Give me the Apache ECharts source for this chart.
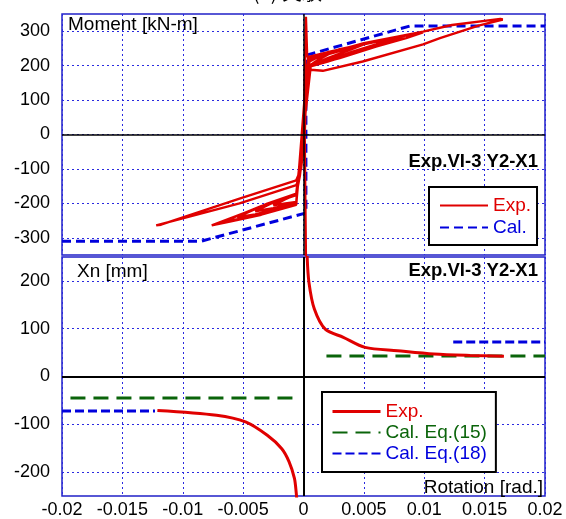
<!DOCTYPE html>
<html>
<head>
<meta charset="utf-8">
<script src="https://cdn.jsdelivr.net/npm/echarts@6/dist/echarts.min.js"></script>
<style>
  html, body { margin: 0; padding: 0; background: #fff; }
  #main { width: 566px; height: 519px; }
</style>
</head>
<body>
<div id="main"></div>
<script>
// tick labels
const momentTicks = [-300, -200, -100, 0, 100, 200, 300];
const xnTicks = [-200, -100, 0, 100, 200];

const expMomRot = [
  [0, 0], [0.0001, 150], [0.0002, 342], [0.0003, 230],
  [0.0005, 212], [0.002, 239], [0.003, 247], [0.002, 232], [0.001, 212], [0.0005, 200],
  [-0.0003, -120], [-0.0006, -174], [-0.0015, -188], [-0.0025, -206], [-0.0015, -200], [-0.0006, -196],
  [0.0004, 214], [0.003, 248], [0.005, 262], [0.004, 248], [0.002, 222], [0.0006, 200],
  [-0.0006, -173], [-0.0025, -197], [-0.004, -223], [-0.0025, -214], [-0.0006, -198],
  [0.0005, 215], [0.004, 255], [0.007, 277], [0.006, 262], [0.004, 240], [0.002, 215], [0.0006, 200],
  [-0.0006, -172], [-0.003, -201], [-0.0055, -240], [-0.004, -232], [-0.0025, -218], [-0.0006, -200],
  [0.0005, 218], [0.005, 262], [0.0085, 288], [0.007, 270], [0.005, 245], [0.002, 212], [0.0006, 198],
  [-0.0006, -174], [-0.0035, -208], [-0.0068, -255], [-0.005, -243], [-0.003, -226], [-0.0006, -202],
  [0.0004, 225], [0.005, 264], [0.0099, 297], [0.0085, 280], [0.006, 255], [0.003, 222], [0.0006, 200],
  [-0.0006, -176], [-0.004, -216], [-0.0076, -264], [-0.006, -252], [-0.0035, -233], [-0.0006, -204],
  [0.0003, 200], [0.0005, 222], [0.005, 265], [0.0099, 299], [0.0123, 318], [0.0163, 336], [0.0165, 334],
  [0.0145, 316], [0.0113, 280], [0.0099, 262], [0.0049, 212], [0.0016, 185], [0.0006, 188], [0.0003, 200],
  [0.0001, 0], [-0.0003, -120], [-0.0006, -147], [-0.0053, -200], [-0.0122, -264], [-0.0118, -262],
  [-0.0053, -186], [-0.0006, -133], [-0.0002, -100],
  [0.0001, 0], [0.0002, -360]
];
// moment-rotation, calculated
const calMomRot = [
  [-0.02, -310], [-0.0085, -310], [0.0002, -228], [0.0002, 230], [0.0088, 315], [0.02, 315]
];

// neutral axis depth Xn, experiment
const expXnPos = [
  [0.0003, 252], [0.00045, 197], [0.0009, 141], [0.0018, 99], [0.0033, 82], [0.0051, 61],
  [0.0078, 54], [0.0108, 47], [0.0138, 44], [0.0166, 42.5]
];
const expXnNeg = [
  [-0.0121, -71], [-0.0072, -81], [-0.0048, -95], [-0.003, -123], [-0.0018, -151],
  [-0.0012, -178], [-0.00075, -213], [-0.0006, -244], [-0.00055, -260]
];
// Xn calculated, Eq.(15) and Eq.(18)
const calXn15Pos = [[0.0019, 43], [0.02, 43]];
const calXn15Neg = [[-0.0193, -45], [-0.0009, -45]];
const calXn18Pos = [[0.0124, 72], [0.02, 72]];
const calXn18Neg = [[-0.02, -72], [-0.0123, -72]];

const RED = '#e00000';
const BLUE = '#0000dd';
const GREEN = '#0a640a';
const FONT = 'Liberation Sans, Arial, sans-serif';

const split = { show: true, lineStyle: { color: '#2a2ae0', width: 1, type: [2, 3] } };
const zeroLines = {
  silent: true, symbol: 'none', label: { show: false },
  lineStyle: { color: '#000', width: 1.5, type: 'solid' },
  data: [{ yAxis: 0 }, { xAxis: 0 }]
};

function xAxisOpt(idx, showLabels) {
  return {
    type: 'value', gridIndex: idx, min: -0.02, max: 0.02, interval: 0.005,
    axisLine: { show: false }, axisTick: { show: false },
    axisLabel: {
      show: showLabels, color: '#000', fontSize: 18, fontFamily: FONT, margin: 5,
      formatter: v => String(+v.toFixed(3))
    },
    splitLine: split
  };
}
function yAxisOpt(idx, lo, hi, ticks) {
  return {
    type: 'value', gridIndex: idx, min: lo, max: hi,
    axisLine: { show: false },
    axisTick: { show: false, customValues: ticks },
    axisLabel: { color: '#000', fontSize: 18, fontFamily: FONT, margin: 12, customValues: ticks },
    splitLine: split
  };
}

function lineSeries(name, grid, data, color, width, type, z) {
  return {
    name: name, type: 'line', xAxisIndex: grid, yAxisIndex: grid, data: data,
    symbol: 'none', lineStyle: { color: color, width: width, type: type }, itemStyle: { color: color },
    z: z || 2
  };
}

const chart = echarts.init(document.getElementById('main'));
const topExp = lineSeries('Exp.', 0, expMomRot, RED, 2.4, 'solid', 3);
topExp.markLine = zeroLines;
const botExpPos = lineSeries('Exp.', 1, expXnPos, RED, 3, 'solid', 3);
botExpPos.smooth = 0.3;
botExpPos.markLine = Object.assign({}, zeroLines, { lineStyle: { color: '#000', width: 2, type: 'solid' } });
const botExpNeg = lineSeries('Exp.', 1, expXnNeg, RED, 3, 'solid', 3);
botExpNeg.smooth = 0.3;

chart.setOption({
  animation: false,
  backgroundColor: '#fff',
  grid: [
    { left: 62, top: 14, width: 483, height: 241, show: true, borderColor: '#2020c8', borderWidth: 1.5 },
    { left: 62, top: 257, width: 483, height: 241, show: true, borderColor: '#2020c8', borderWidth: 1.5 }
  ],
  xAxis: [xAxisOpt(0, false), xAxisOpt(1, true)],
  yAxis: [yAxisOpt(0, -350, 350, momentTicks), yAxisOpt(1, -250, 250, xnTicks)],
  legend: [
    {
      orient: 'vertical', left: 429, top: 187, itemWidth: 48, itemHeight: 14, itemGap: 3,
      padding: [9, 6, 8, 10], borderColor: '#000', borderWidth: 2, backgroundColor: '#fff',
      selectedMode: false, itemStyle: { opacity: 0 },
      textStyle: { fontSize: 19, fontFamily: FONT },
      data: [
        { name: 'Exp.', textStyle: { color: RED } },
        { name: 'Cal.', textStyle: { color: BLUE } }
      ]
    },
    {
      orient: 'vertical', left: 322, top: 392, itemWidth: 48, itemHeight: 14, itemGap: 2,
      padding: [10, 9, 9, 9], borderColor: '#000', borderWidth: 2, backgroundColor: '#fff',
      selectedMode: false, itemStyle: { opacity: 0 },
      textStyle: { fontSize: 19, fontFamily: FONT },
      data: [
        { name: 'Exp.', textStyle: { color: RED }, lineStyle: { width: 3 } },
        { name: 'Cal. Eq.(15)', textStyle: { color: GREEN } },
        { name: 'Cal. Eq.(18)', textStyle: { color: BLUE } }
      ]
    }
  ],
  graphic: [
    { type: 'text', x: 305, y: 2, style: { text: '(a) 実験VI-3', fontSize: 20, fontFamily: 'Noto Sans CJK JP', fill: '#000', textAlign: 'center', textVerticalAlign: 'bottom' } },
    { type: 'text', x: 68, y: 15, z: 10, style: { text: 'Moment [kN-m]', fontSize: 19, fontFamily: FONT, fill: '#000' } },
    { type: 'text', x: 538, y: 162, z: 10, style: { text: 'Exp.VI-3 Y2-X1', fontSize: 18.5, fontWeight: 'bold', fontFamily: FONT, fill: '#000', textAlign: 'right', textVerticalAlign: 'middle' } },
    { type: 'text', x: 77, y: 262, z: 10, style: { text: 'Xn [mm]', fontSize: 19, fontFamily: FONT, fill: '#000' } },
    { type: 'text', x: 538, y: 271, z: 10, style: { text: 'Exp.VI-3 Y2-X1', fontSize: 18.5, fontWeight: 'bold', fontFamily: FONT, fill: '#000', textAlign: 'right', textVerticalAlign: 'middle' } },
    { type: 'text', x: 543, y: 488, z: 10, style: { text: 'Rotation [rad.]', fontSize: 19, fontFamily: FONT, fill: '#000', textAlign: 'right', textVerticalAlign: 'middle' } }
  ],
  series: [
    lineSeries('Cal.', 0, calMomRot, BLUE, 3, [9, 5], 2),
    topExp,
    lineSeries('Cal. Eq.(15)', 1, calXn15Pos, GREEN, 3, [15, 8]),
    lineSeries('Cal. Eq.(15)', 1, calXn15Neg, GREEN, 3, [15, 8]),
    lineSeries('Cal. Eq.(18)', 1, calXn18Pos, BLUE, 3, [9, 4]),
    lineSeries('Cal. Eq.(18)', 1, calXn18Neg, BLUE, 3, [9, 4]),
    botExpPos,
    botExpNeg
  ]
});
</script>
</body>
</html>
